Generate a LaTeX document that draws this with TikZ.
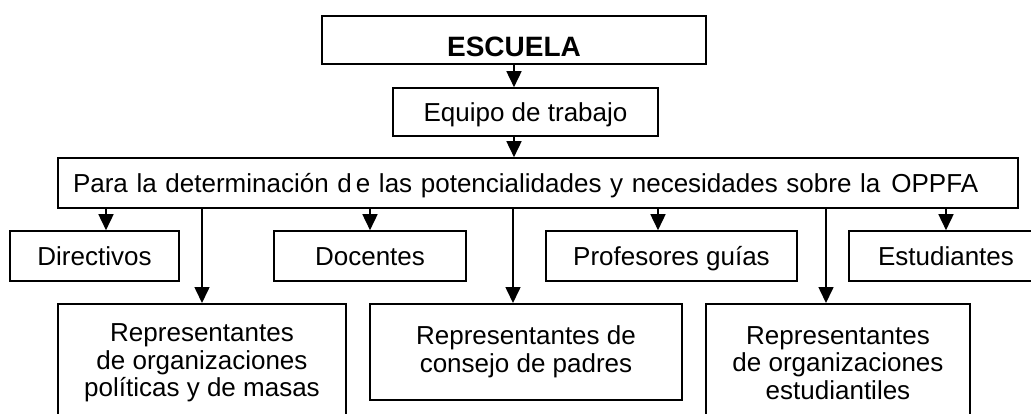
\documentclass[tikz,border=0pt]{standalone}
\usepackage{fontspec}
\setmainfont{Liberation Sans}
\usetikzlibrary{arrows.meta}

\begin{document}
\begin{tikzpicture}[x=1pt,y=-1pt,
    box/.style={draw, line width=1.6pt, inner sep=0pt, minimum height=50pt,
        font=\fontsize{26}{27.5}\selectfont, text height=18pt, text depth=0pt},
    multibox/.style={draw, line width=1.6pt, inner sep=0pt, align=center,
        anchor=north, font=\fontsize{26}{27.5}\selectfont},
    arr/.style={line width=1.6pt, -{Triangle[length=16pt,width=15pt]}}]
    \clip (0,0) rectangle (1031,413);

    % Top of the chart
    \node[box, minimum width=384, minimum height=48, text height=32pt,
        font=\bfseries\fontsize{28}{30}\selectfont] (escuela) at (514,40) {ESCUELA};
    \node[box, minimum width=265, minimum height=48] (equipo) at (525.5,112) {Equipo de trabajo};
    \node[box, minimum width=960, text width=930pt, align=left] (para) at (538,183)
        {Para la determinación d\kern4pt e las potencialidades y necesidades sobre la\hspace{11pt}OPPFA};

    % First row
    \node[box, minimum width=169] (directivos) at (94.5,256) {Directivos};
    \node[box, minimum width=192] (docentes) at (370,256) {Docentes};
    \node[box, minimum width=251] (profesores) at (671.5,256) {Profesores guías};
    \node[box, minimum width=194] (estudiantes) at (946,256) {Estudiantes};

    % Second row
    \node[multibox, minimum width=288, minimum height=118] (repol) at (202,303)
        {Representantes\\de organizaciones\\políticas y de masas};
    \node[multibox, minimum width=312, minimum height=96] (repad) at (526,303)
        {Representantes de\\consejo de padres};
    \node[multibox, minimum width=264, minimum height=118] (repest) at (838,303)
        {Representantes\\de organizaciones\\estudiantiles};

    % Arrows
    \draw[arr] (escuela.south) -- (escuela.south |- equipo.north);
    \draw[arr] (escuela.south |- equipo.south) -- (escuela.south |- para.north);
    \foreach \n/\x in {directivos/106, docentes/370, profesores/658, estudiantes/946,
        repol/202, repad/513, repest/826}
        \draw[arr] (\x,0 |- para.south) -- (\x,0 |- \n.north);
\end{tikzpicture}
\end{document}
